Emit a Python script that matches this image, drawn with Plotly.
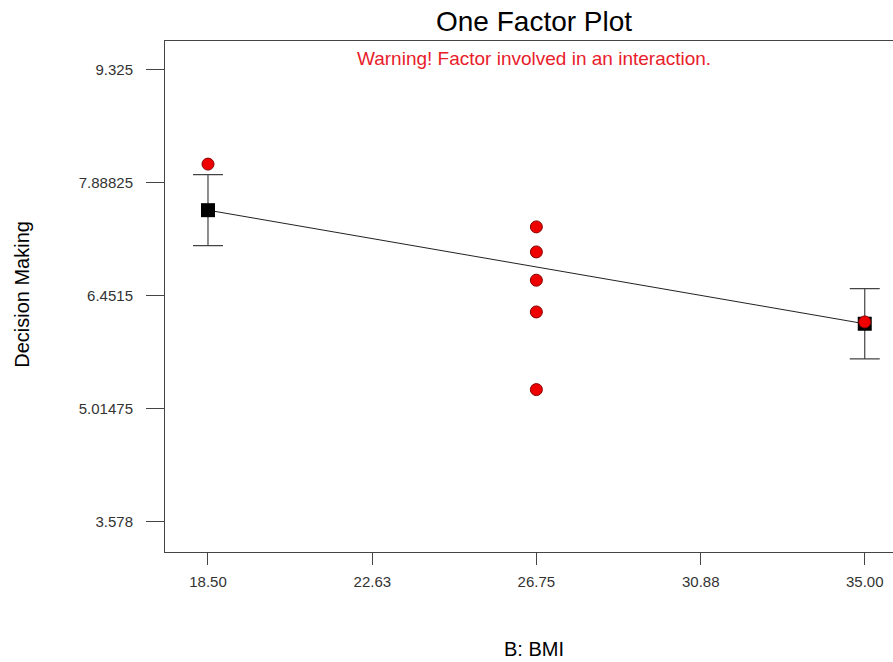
import plotly.graph_objects as go

# Data
bmi_levels = [18.50, 35.00]
predicted_mean = [7.537, 6.095]
ci_half = [0.451, 0.447]

obs_bmi = [18.50, 26.75, 26.75, 26.75, 26.75, 26.75, 35.00]
obs_value = [8.122, 7.325, 7.007, 6.648, 6.245, 5.259, 6.118]

x_tickvals = [18.50, 22.63, 26.75, 30.88, 35.00]
x_ticktext = ["18.50", "22.63", "26.75", "30.88", "35.00"]
y_tickvals = [3.578, 5.01475, 6.4515, 7.88825, 9.325]
y_ticktext = ["3.578", "5.01475", "6.4515", "7.88825", "9.325"]

fig = go.Figure()

# fitted line with error bars and mean squares
fig.add_trace(go.Scatter(
    x=bmi_levels, y=predicted_mean, mode="lines+markers",
    line=dict(color="#222222", width=1),
    marker=dict(symbol="square", size=14, color="black"),
    error_y=dict(type="data", array=ci_half, color="#444444", thickness=1.2, width=15),
    showlegend=False, hoverinfo="skip"))

# observed points
fig.add_trace(go.Scatter(
    x=obs_bmi, y=obs_value, mode="markers",
    marker=dict(symbol="circle", size=12, color="#ee0000",
                line=dict(color="#880000", width=1)),
    showlegend=False))

axis_common = dict(ticks="outside", tickcolor="#444444", tickwidth=1,
                   showgrid=False, zeroline=False, showline=True, linecolor="#444444",
                   linewidth=1, tickfont=dict(size=15, color="#333333",
                                              family="Liberation Sans, Arial, sans-serif"))

fig.update_layout(
    width=893, height=662,
    margin=dict(l=165, r=0, t=41, b=110),
    paper_bgcolor="white", plot_bgcolor="white",
    font=dict(family="Liberation Sans, Arial, sans-serif", color="#333333"),
    xaxis=dict(range=[17.42, 35.71], tickvals=x_tickvals, ticktext=x_ticktext,
               ticklen=12, mirror=True, ticklabelstandoff=4, **axis_common),
    yaxis=dict(range=[3.197, 9.685], tickvals=y_tickvals, ticktext=y_ticktext,
               ticklen=18, mirror=False, ticklabelstandoff=10, **axis_common),
    annotations=[
        dict(text="One Factor Plot", xref="paper", yref="paper",
             x=0.5067, y=1.0372, xanchor="center", yanchor="middle", showarrow=False,
             font=dict(size=28, color="black")),
        dict(text="Warning! Factor involved in an interaction.", xref="paper", yref="paper",
             x=0.5067, y=0.9667, xanchor="center", yanchor="middle", showarrow=False,
             font=dict(size=19, color="#e8202a")),
        dict(text="B: BMI", xref="paper", yref="paper", x=0.5067, y=-0.1905,
             xanchor="center", yanchor="middle", showarrow=False,
             font=dict(size=20, color="black")),
        dict(text="Decision Making", xref="paper", yref="paper", x=-0.1969, y=0.5046,
             xanchor="center", yanchor="middle", showarrow=False, textangle=-90,
             font=dict(size=20, color="black")),
    ],
)

fig.write_html("out.html", config={"displayModeBar": False},
               post_script="document.body.style.margin='0';document.body.style.overflow='hidden';")
